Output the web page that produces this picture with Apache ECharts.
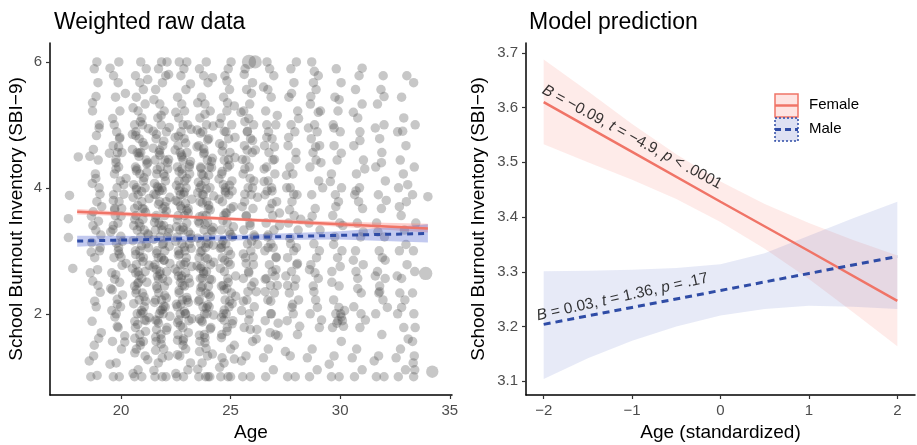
<!DOCTYPE html>
<html>
<head>
<meta charset="utf-8">
<script src="https://cdn.jsdelivr.net/npm/echarts@6/dist/echarts.min.js"></script>
<style>
  html, body { margin: 0; padding: 0; background: #fff; }
  #chart { width: 917px; height: 445px; }
</style>
</head>
<body>
<div id="chart"></div>
<script>
// ---- weighted raw data (age, SBI-9 [, weight]), by age column ----
const col19 = [[18.62,1.0],[18.91,1.02],[18.75,1.33],[18.98,1.61],[18.68,1.88],[18.87,2.11],[19.05,2.34],[18.71,2.52],[18.93,2.7],[18.8,2.89],[19.02,3.0],[18.66,3.13],[18.85,3.33],[18.97,3.47],[18.73,3.62],[18.9,3.78],[19.04,3.9],[18.69,4.07],[18.83,4.22],[18.96,4.44],[18.74,4.61],[18.88,4.83],[19.01,5.0],[18.7,5.22],[18.86,5.45],[18.95,5.67],[18.78,5.89],[18.9,6.0],[18.64,2.98],[19.0,4.0],
  [18.55,1.25],[19.1,1.7],[18.8,2.2],[18.6,2.65],[19.05,3.05],[18.72,3.4],[19.12,3.7],[18.85,4.15],[18.58,4.5],[19.0,4.95],[18.7,5.35],[18.95,2.45],[18.65,3.55],[19.08,3.25],[18.78,1.5]];
const col20 = [[19.65,1.0],[19.92,1.0],[19.78,1.22],[20.02,1.44],[19.61,1.56],[19.87,1.78],[19.72,1.95],[19.98,2.11],[19.83,2.23],[19.6,2.38],[19.94,2.5],[19.76,2.62],[20.05,2.77],[19.68,2.89],[19.88,3.0],[19.79,3.12],[19.99,3.23],[19.63,3.34],[19.86,3.44],[19.74,3.56],[20.03,3.67],[19.91,3.78],[19.66,3.89],[19.82,4.0],[19.97,4.11],[19.7,4.22],[19.89,4.33],[19.77,4.45],[20.04,4.56],[19.64,4.67],[19.93,4.78],[19.8,4.89],[19.69,5.0],[19.95,5.22],[19.75,5.44],[19.87,5.67],[19.66,5.78],[19.9,6.0],[19.78,2.0],[19.92,2.95],[19.71,3.67],[19.84,4.56],
  [19.5,1.2],[20.17,1.55],[19.83,1.8],[19.58,2.05],[20.07,2.3],[19.71,2.55],[20.23,2.8],[19.89,3.05],[19.53,3.3],[20.0,3.55],[19.65,3.8],[20.13,4.05],[19.77,4.3],[19.47,4.55],[19.95,4.8],[19.62,5.1],[20.2,5.5],[19.5,5.9],[20.17,1.65],[19.83,2.15],[19.58,2.65],[20.07,3.15],[19.71,3.65],[20.23,4.15],[19.89,4.65],[19.53,2.4],[20.0,2.9],[19.65,3.4],[20.13,3.9],[19.77,4.4]];
const col21 = [[20.62,1.0],[20.95,1.0],[20.78,1.11],[21.1,1.33],[20.7,1.44],[21.02,1.56],[20.86,1.67],[20.66,1.78],[21.15,1.89],[20.9,2.0],[20.74,2.0],[21.06,2.11],[20.83,2.22],[20.68,2.33],[20.98,2.33],[20.62,2.44],[20.95,2.56],[20.78,2.67],[21.1,2.67],[20.7,2.78],[21.02,2.89],[20.86,3.0],[20.66,3.0],[21.15,3.11],[20.9,3.22],[20.74,3.33],[21.06,3.33],[20.83,3.44],[20.68,3.56],[20.98,3.67],[20.62,3.67],[20.95,3.78],[20.78,3.89],[21.1,4.0],[20.7,4.0],[21.02,4.11],[20.86,4.22],[20.66,4.33],[21.15,4.44],[20.9,4.56],[20.74,4.56],[21.06,4.67],[20.83,4.78],[20.68,4.89],[20.98,5.0],[20.62,5.0],[20.95,5.11],[20.78,5.22],[21.1,5.33],[20.7,5.44],[21.02,5.56],[20.86,5.67],[20.66,5.78],[21.15,5.89],[20.9,6.0],[20.8,2.5],[21.0,3.5],[20.72,4.3],[21.08,1.9],[20.88,2.9],
  [20.55,1.05],[21.22,1.27],[20.88,1.5],[20.63,1.61],[21.12,1.72],[20.76,1.83],[21.28,1.94],[20.94,2.05],[20.58,2.16],[21.05,2.27],[20.7,2.38],[21.18,2.5],[20.82,2.61],[20.52,2.72],[21.0,2.83],[20.67,2.94],[21.25,3.05],[20.55,3.16],[21.22,3.27],[20.88,3.38],[20.63,3.5],[21.12,3.61],[20.76,3.72],[21.28,3.83],[20.94,3.94],[20.58,4.05],[21.05,4.16],[20.7,4.27],[21.18,4.38],[20.82,4.5],[20.52,4.61],[21.0,4.72],[20.67,4.83],[21.25,4.94],[20.55,5.27],[21.22,5.72],[20.88,1.55],[20.63,1.88],[21.12,2.2],[20.76,2.48],[21.28,2.77],[20.94,3.08],[20.58,3.4],[21.05,3.66],[20.7,3.97],[21.18,4.25],[20.82,4.55],[20.52,4.85],[21.0,2.02],[20.67,2.65],[21.25,3.25],[20.55,3.85],[21.22,4.4],[20.88,5.05],[20.63,1.38]];
const col22 = [[21.55,1.0],[21.88,1.0],[22.05,1.0],[21.7,1.22],[21.95,1.44],[21.6,1.56],[21.82,1.67],[22.1,1.78],[21.66,1.89],[21.92,2.0],[21.75,2.0],[22.02,2.11],[21.58,2.22],[21.85,2.22],[21.72,2.33],[21.98,2.44],[21.62,2.44],[21.9,2.56],[21.78,2.67],[22.08,2.67],[21.55,2.78],[21.84,2.89],[21.7,2.89],[22.0,3.0],[21.64,3.0],[21.93,3.11],[21.79,3.22],[22.12,3.22],[21.57,3.33],[21.87,3.33],[21.73,3.44],[21.99,3.56],[21.61,3.56],[21.91,3.67],[21.76,3.78],[22.06,3.78],[21.59,3.89],[21.86,4.0],[21.69,4.0],[22.03,4.11],[21.63,4.22],[21.94,4.22],[21.8,4.33],[21.56,4.44],[22.0,4.44],[21.74,4.56],[21.9,4.67],[21.6,4.78],[22.07,4.89],[21.83,5.0],[21.68,5.11],[21.97,5.22],[21.77,5.33],[21.58,5.56],[21.89,5.67],[22.04,5.78],[21.71,5.89],[21.85,6.0],[22.1,6.0],[21.81,2.05],[21.66,2.6],[21.95,3.4],[21.75,3.95],[21.88,1.3],[21.62,1.75],[21.97,2.85],
  [21.5,1.1],[22.17,1.33],[21.83,1.52],[21.58,1.63],[22.07,1.74],[21.71,1.85],[22.23,1.96],[21.89,2.07],[21.53,2.18],[22.0,2.29],[21.65,2.4],[22.13,2.52],[21.77,2.63],[21.47,2.74],[21.95,2.85],[21.62,2.96],[22.2,3.07],[21.5,3.18],[22.17,3.29],[21.83,3.4],[21.58,3.52],[22.07,3.63],[21.71,3.74],[22.23,3.85],[21.89,3.96],[21.53,4.07],[22.0,4.18],[21.65,4.29],[22.13,4.4],[21.77,4.52],[21.47,4.63],[21.95,4.74],[21.62,4.85],[22.2,4.96],[21.5,5.4],[22.17,5.8],[21.83,1.6],[21.58,1.9],[22.07,2.25],[21.71,2.55],[22.23,2.8],[21.89,3.1],[21.53,3.45],[22.0,3.7],[21.65,4.02],[22.13,4.3],[21.77,4.6],[21.47,4.9],[21.95,2.12],[21.62,2.7],[22.2,3.35],[21.5,3.9],[22.17,4.45],[21.83,5.15],[21.58,1.42]];
const col23 = [[22.55,1.0],[22.85,1.0],[23.05,1.11],[22.68,1.33],[22.95,1.44],[22.6,1.67],[22.82,1.78],[23.1,1.89],[22.7,2.0],[22.93,2.0],[22.57,2.11],[22.8,2.22],[23.02,2.22],[22.65,2.33],[22.9,2.44],[22.75,2.56],[23.08,2.56],[22.58,2.67],[22.87,2.78],[22.72,2.78],[22.98,2.89],[22.62,3.0],[22.92,3.0],[22.78,3.11],[23.12,3.11],[22.56,3.22],[22.84,3.33],[22.69,3.33],[23.0,3.44],[22.61,3.56],[22.89,3.56],[22.76,3.67],[23.06,3.67],[22.59,3.78],[22.86,3.89],[22.71,3.89],[22.97,4.0],[22.64,4.11],[22.91,4.11],[22.79,4.22],[23.11,4.33],[22.57,4.33],[22.83,4.44],[22.7,4.56],[23.01,4.56],[22.6,4.67],[22.88,4.78],[22.74,4.89],[23.04,5.0],[22.63,5.11],[22.9,5.22],[22.77,5.33],[22.58,5.44],[22.96,5.56],[22.73,5.78],[22.87,5.89],[22.66,6.0],[23.0,6.0],[22.81,2.45],[22.67,2.95],[22.94,3.75],[22.78,4.3],[22.85,1.6],[22.63,1.9],[23.07,3.3],[22.73,2.15],[22.95,2.65],[22.69,4.0],
  [22.5,1.05],[23.17,1.22],[22.83,1.5],[22.58,1.58],[23.07,1.7],[22.71,1.81],[23.23,1.92],[22.89,2.04],[22.53,2.15],[23.0,2.26],[22.65,2.37],[23.13,2.49],[22.77,2.6],[22.47,2.71],[22.95,2.82],[22.62,2.93],[23.2,3.04],[22.5,3.15],[23.17,3.26],[22.83,3.37],[22.58,3.49],[23.07,3.6],[22.71,3.71],[23.23,3.82],[22.89,3.93],[22.53,4.04],[23.0,4.15],[22.65,4.26],[23.13,4.37],[22.77,4.49],[22.47,4.6],[22.95,4.71],[22.62,4.82],[23.2,4.93],[22.5,5.2],[23.17,5.65],[22.83,1.57],[22.58,1.86],[23.07,2.18],[22.71,2.5],[23.23,2.75],[22.89,3.06],[22.53,3.38],[23.0,3.64],[22.65,3.95],[23.13,4.22],[22.77,4.52],[22.47,4.8],[22.95,2.0],[22.62,2.6],[23.2,3.2],[22.5,3.8],[23.17,4.42],[22.83,5.0],[22.58,1.35]];
const col24 = [[23.55,1.0],[23.86,1.0],[24.05,1.0],[23.97,1.0],[23.7,1.22],[23.95,1.33],[23.6,1.56],[23.8,1.67],[24.1,1.78],[23.66,1.89],[23.92,2.0],[23.74,2.11],[24.02,2.11],[23.58,2.22],[23.87,2.33],[23.71,2.44],[23.99,2.44],[23.62,2.56],[23.9,2.67],[23.77,2.67],[24.08,2.78],[23.56,2.89],[23.84,2.89],[23.69,3.0],[24.0,3.11],[23.64,3.11],[23.93,3.22],[23.79,3.33],[24.12,3.33],[23.57,3.44],[23.88,3.56],[23.72,3.56],[23.98,3.67],[23.61,3.78],[23.91,3.78],[23.76,3.89],[24.06,4.0],[23.59,4.0],[23.85,4.11],[23.68,4.22],[24.03,4.33],[23.63,4.33],[23.94,4.44],[23.8,4.56],[23.55,4.67],[24.0,4.78],[23.73,4.89],[23.9,5.0],[23.6,5.11],[24.07,5.22],[23.83,5.33],[23.67,5.44],[23.97,5.67],[23.77,5.78],[23.58,5.89],[23.89,6.0],[23.81,2.0],[23.66,2.75],[23.95,3.45],[23.75,4.2],[23.88,1.45],[23.62,2.35],[24.04,2.55],[23.71,3.9],[23.86,3.05],
  [23.5,1.12],[24.17,1.36],[23.83,1.54],[23.58,1.66],[24.07,1.76],[23.71,1.87],[24.23,1.98],[23.89,2.09],[23.53,2.2],[24.0,2.31],[23.65,2.42],[24.13,2.54],[23.77,2.64],[23.47,2.76],[23.95,2.87],[23.62,2.98],[24.2,3.09],[23.5,3.2],[24.17,3.31],[23.83,3.42],[23.58,3.54],[24.07,3.65],[23.71,3.76],[24.23,3.87],[23.89,3.98],[23.53,4.09],[24.0,4.2],[23.65,4.31],[24.13,4.42],[23.77,4.54],[23.47,4.65],[23.95,4.76],[23.62,4.87],[24.2,4.98],[23.5,5.35],[24.17,5.75],[23.83,1.62],[23.58,1.92],[24.07,2.27],[23.71,2.57],[24.23,2.82],[23.89,3.12],[23.53,3.47],[24.0,3.72],[23.65,4.04],[24.13,4.32],[23.77,4.62],[23.47,4.92],[23.95,2.14],[23.62,2.72],[24.2,3.37],[23.5,3.92],[24.17,4.47],[23.83,5.17],[23.58,1.4]];
const col25 = [[24.55,1.0],[24.88,1.0],[24.7,1.22],[25.0,1.44],[24.6,1.67],[24.85,1.78],[25.1,1.89],[24.66,2.0],[24.93,2.11],[24.75,2.22],[25.04,2.33],[24.58,2.44],[24.87,2.56],[24.72,2.67],[24.98,2.78],[24.62,2.89],[24.9,3.0],[24.78,3.11],[25.08,3.22],[24.56,3.33],[24.84,3.44],[24.69,3.56],[25.01,3.67],[24.63,3.78],[24.92,3.89],[24.76,4.0],[25.06,4.11],[24.59,4.22],[24.86,4.33],[24.71,4.44],[24.97,4.56],[24.64,4.67],[24.91,4.78],[24.79,4.89],[25.05,5.0],[24.57,5.11],[24.83,5.22],[24.68,5.44],[24.95,5.56],[24.74,5.78],[24.89,5.89],[25.02,6.0],[24.8,2.0],[24.66,2.45],[24.94,3.3],[24.75,3.95],[24.61,1.3],[24.9,4.45],[24.73,2.85],[25.0,1.0],[24.82,3.6],[24.67,4.05],[24.96,2.2],[24.58,3.05],[24.86,5.35],[24.7,1.9],
  [24.5,1.15],[25.17,1.5],[24.83,1.72],[24.58,1.94],[25.07,2.16],[24.71,2.38],[25.23,2.6],[24.89,2.82],[24.53,3.04],[25.0,3.26],[24.65,3.48],[25.13,3.7],[24.77,3.92],[24.47,4.14],[24.95,4.36],[24.62,4.58],[25.2,4.8],[24.5,5.02],[25.17,5.3],[24.83,5.7],[24.58,1.62],[25.07,1.84],[24.71,2.06],[25.23,2.28],[24.89,2.5],[24.53,2.72],[25.0,2.94],[24.65,3.16],[25.13,3.38],[24.77,3.6],[24.47,3.82],[24.95,4.04],[24.62,4.26],[25.2,4.48],[24.5,4.7],[25.17,1.28],[24.83,2.4],[24.58,3.1],[25.07,3.95],[24.71,4.9]];
const col26 = [[25.55,1.0],[25.9,1.0],[25.7,1.33],[26.0,1.56],[25.62,1.78],[25.86,2.0],[26.08,2.11],[25.74,2.22],[25.95,2.44],[25.58,2.56],[25.82,2.67],[26.04,2.78],[25.68,2.89],[25.92,3.0],[25.77,3.11],[26.1,3.22],[25.6,3.33],[25.88,3.44],[25.72,3.56],[26.02,3.67],[25.64,3.78],[25.94,3.89],[25.8,4.0],[26.06,4.11],[25.57,4.22],[25.85,4.33],[25.7,4.44],[25.99,4.56],[25.63,4.67],[25.91,4.78],[25.76,4.89],[26.05,5.0],[25.6,5.22],[25.87,5.33],[25.73,5.56],[26.0,5.67],[25.66,5.89],[25.84,6.0,1.5],[26.12,6.0,1.4],[25.79,2.35],[25.96,3.15],[25.65,3.9],[25.9,1.75],[25.75,4.6],[26.03,2.9],[25.83,5.1],
  [25.5,1.25],[26.17,1.6],[25.83,1.9],[25.58,2.2],[26.07,2.5],[25.71,2.8],[26.23,3.1],[25.89,3.4],[25.53,3.7],[26.0,4.0],[25.65,4.3],[26.13,4.6],[25.77,4.9],[25.47,5.2],[25.95,5.5],[25.62,5.8],[26.2,1.75],[25.5,2.05],[26.17,2.35],[25.83,2.65],[25.58,2.95],[26.07,3.25],[25.71,3.55],[26.23,3.85],[25.89,4.15],[25.53,4.45],[26.0,4.75],[25.65,5.05]];
const col27 = [[26.6,1.0],[26.95,1.11],[26.72,1.44],[27.05,1.67],[26.58,1.89],[26.86,2.0],[26.7,2.22],[27.0,2.33],[26.63,2.56],[26.9,2.67],[26.77,2.78],[27.08,2.89],[26.56,3.0],[26.84,3.11],[26.68,3.22],[26.98,3.33],[26.62,3.44],[26.92,3.56],[26.79,3.67],[27.1,3.78],[26.57,3.89],[26.87,4.0],[26.71,4.11],[27.02,4.22],[26.64,4.33],[26.93,4.44],[26.75,4.56],[26.55,4.67],[26.89,4.78],[26.73,4.89],[27.06,5.0],[26.6,5.22],[26.85,5.44],[26.7,5.56],[26.97,5.78],[26.78,5.89],[26.66,6.0],[26.82,2.45],[26.94,3.05],[26.67,3.95],[26.8,1.7],[27.03,2.6],
  [26.5,1.3],[27.17,1.65],[26.83,2.0],[26.58,2.35],[27.07,2.7],[26.71,3.05],[27.23,3.4],[26.89,3.75],[26.53,4.1],[27.0,4.45],[26.65,4.8],[27.13,5.15],[26.5,5.6],[27.17,1.85],[26.83,2.2],[26.58,2.55],[27.07,2.9],[26.71,3.25],[27.23,3.6],[26.89,3.95],[26.53,4.3],[27.0,4.65],[26.65,5.0],[27.13,2.45]];
const col28 = [[27.6,1.0],[27.95,1.0],[27.72,1.33],[28.05,1.67],[27.58,1.89],[27.86,2.0],[28.1,2.22],[27.68,2.33],[27.92,2.44],[27.78,2.67],[28.02,2.78],[27.6,2.89],[27.88,3.0],[27.74,3.11],[28.08,3.33],[27.64,3.44],[27.9,3.56],[27.8,3.78],[28.03,3.89],[27.56,4.0],[27.84,4.22],[27.7,4.33],[27.98,4.56],[27.62,4.67],[27.93,4.89],[27.76,5.0],[28.06,5.22],[27.66,5.44],[27.89,5.67],[27.75,5.89],[28.0,6.0],[27.83,2.15],[27.97,2.55],[27.69,3.65],
  [27.5,1.4],[28.15,1.8],[27.8,2.1],[27.6,2.45],[28.05,2.8],[27.7,3.2],[28.2,3.5],[27.88,3.9],[27.55,4.2],[27.98,4.45],[27.65,4.8],[28.1,5.1],[27.78,5.5],[27.52,2.6],[28.0,3.05],[27.72,4.0]];
const col29 = [[28.6,1.0],[28.95,1.11],[28.72,1.44],[29.05,1.78],[28.63,2.0],[28.88,2.22],[28.77,2.44],[29.0,2.56],[28.66,2.78],[28.92,2.89],[28.8,3.11],[29.08,3.33],[28.58,3.44],[28.86,3.67],[28.7,3.89],[29.02,4.11],[28.62,4.33],[28.9,4.44],[28.76,4.56],[29.06,4.67],[28.68,4.78],[28.95,4.89],[28.83,5.0],[29.1,5.22],[28.64,5.33],[28.9,5.56],[28.78,5.67],[29.0,5.78],[28.7,6.0],[28.85,2.65],
  [28.5,1.3],[29.15,1.9],[28.8,2.35],[28.6,2.7],[29.05,3.0],[28.72,3.55],[29.2,4.0],[28.88,4.65],[28.55,4.95],[29.0,5.2],[28.66,5.45],[29.12,4.4],[28.82,5.85],[28.96,2.1]];
const col30 = [[29.6,1.0],[29.95,1.0],[29.72,1.33],[30.05,1.56],[29.65,1.78],[29.9,1.89],[30.1,1.89],[29.8,2.0],[30.02,2.0],[29.7,2.22],[29.95,2.44],[29.62,2.67],[29.88,2.89],[30.08,3.0],[29.75,3.22],[29.98,3.44],[29.66,3.56],[29.92,3.78],[29.78,3.89],[30.06,4.0],[29.6,4.22],[29.86,4.44],[29.72,4.67],[30.0,4.89],[29.68,5.0],[29.9,5.22],[29.76,5.44],[30.04,5.67],[29.82,5.89],[29.94,2.1],
  [29.5,1.2],[30.15,1.8],[30.05,1.95],[29.85,1.85],[30.2,2.05],[29.62,2.5],[30.0,2.75],[29.7,3.1],[30.12,3.4],[29.8,3.7],[29.55,4.1],[30.05,4.55],[29.72,4.95],[29.95,5.4]];
const col31 = [[30.65,1.0],[31.0,1.11],[30.75,1.44],[30.9,1.78],[30.62,2.11],[30.96,2.33],[30.8,2.56],[31.05,2.78],[30.7,3.0],[30.93,3.22],[30.78,3.44],[31.02,3.67],[30.66,3.89],[30.88,4.0],[30.74,4.22],[31.06,4.44],[30.62,4.67],[30.9,4.89],[30.8,5.11],[31.0,5.33],[30.7,5.56],[30.86,5.78],[30.95,2.0],[30.72,2.67],[30.84,3.78],
  [30.55,1.3],[31.15,1.9],[30.8,2.4],[30.6,2.85],[31.05,3.3],[30.72,3.95],[31.12,4.3],[30.9,4.75],[30.6,5.2],[31.0,5.9]];
const col32 = [[31.65,1.0],[32.0,1.0],[31.75,1.33],[31.9,1.67],[31.62,2.0],[31.95,2.22],[31.8,2.44],[32.05,2.56],[31.7,2.67],[31.92,2.89],[31.78,3.0],[32.02,3.22],[31.66,3.44],[31.88,3.67],[31.74,3.89],[32.06,4.11],[31.62,4.33],[31.9,4.56],[31.8,4.78],[32.0,5.0],[31.7,5.33],[31.86,5.56],[31.96,5.78],[31.76,2.33],
  [31.55,1.25],[32.15,2.1],[31.8,2.35],[31.6,2.6],[32.05,2.85],[31.72,3.3],[32.1,3.8],[31.88,4.4],[31.6,4.95],[32.0,5.45]];
const col33 = [[32.65,1.0],[32.98,1.11],[32.75,1.44],[32.9,1.78],[32.62,2.0],[32.95,2.22],[32.8,2.56],[33.05,2.78],[32.7,3.0],[32.93,3.33],[32.78,3.56],[33.02,3.78],[32.66,4.0],[32.88,4.22],[32.74,4.44],[33.0,4.67],[32.62,4.89],[32.9,5.11],[32.8,5.44],[33.04,5.78],[32.72,2.33],
  [32.55,1.3],[33.1,1.6],[32.8,2.1],[32.6,2.6],[33.0,3.1],[32.7,3.7],[33.08,4.05],[32.85,4.9]];
const col34 = [[33.35,1.0],[33.4,1.11],[33.33,1.22],[33.38,1.33],[33.3,1.56],[33.42,1.78],[33.36,2.0],[33.3,2.33],[33.4,2.67],[33.34,3.0],[33.45,3.44],[33.3,3.89],[33.38,4.33],[33.42,5.0],[33.35,5.67]];
const outliers = [[17.65,3.88],[17.6,3.51],[17.6,3.21],[17.8,2.72],[18.05,4.49],[34.2,1.08,1.3],[33.9,2.64,1.4],[34.0,3.86]];

// ---- fitted lines on the raw-data panel ----
const rawAges = [18, 22, 26, 30, 34];
const rawFemaleFit = [3.62, 3.555, 3.49, 3.42, 3.355];
const rawFemaleLow = [3.575, 3.525, 3.465, 3.38, 3.29];
const rawFemaleHigh = [3.665, 3.585, 3.515, 3.46, 3.43];
const rawMaleFit = [3.154, 3.185, 3.215, 3.245, 3.276];
const rawMaleLow = [3.065, 3.135, 3.17, 3.18, 3.13];
const rawMaleHigh = [3.24, 3.235, 3.26, 3.31, 3.42];

// ---- model prediction panel ----
const ageStd = [-2, -1, 0, 1, 2];
const femaleFit = [3.61, 3.519, 3.428, 3.338, 3.247];
const maleFit = [3.204, 3.235, 3.266, 3.297, 3.328];
const bandX = [-2, -1.5, -1, -0.5, 0, 0.5, 1, 1.5, 2];
const femaleLow = [3.533, 3.500, 3.468, 3.433, 3.391, 3.342, 3.287, 3.226, 3.164];
const femaleHigh = [3.688, 3.630, 3.570, 3.515, 3.465, 3.424, 3.389, 3.358, 3.330];
const maleLow = [3.104, 3.142, 3.174, 3.200, 3.220, 3.232, 3.238, 3.236, 3.232];
const maleHigh = [3.301, 3.302, 3.304, 3.307, 3.314, 3.334, 3.366, 3.398, 3.428];

// tick labels
const rawYTicks = [2, 4, 6];
const rawXTicks = [20, 25, 30, 35];
const predYTicks = [3.1, 3.2, 3.3, 3.4, 3.5, 3.6, 3.7];
const predXTicks = [-2, -1, 0, 1, 2];

// annotations [x, y] (text centre)
const femaleNotePos = [-1.0, 3.546];
const maleNotePos = [-1.11, 3.254];

const FONT = 'Liberation Sans, Arial, sans-serif';
const RED = '#F07467';
const BLUE = '#2F4CA6';

const rawPoints = [].concat(col19, col20, col21, col22, col23, col24, col25, col26,
  col27, col28, col29, col30, col31, col32, col33, col34, outliers);

function pairs(xs, ys) { return xs.map((x, i) => [x, ys[i]]); }

function band(xs, lo, hi, fill, xi, yi) {
  return {
    type: 'custom', xAxisIndex: xi, yAxisIndex: yi, silent: true, z: 3,
    data: xs.map((x, i) => [x, lo[i], hi[i]]),
    renderItem: function (params, api) {
      if (params.dataIndex !== 0) return null;
      const pts = [];
      for (let i = 0; i < xs.length; i++) pts.push(api.coord([xs[i], hi[i]]));
      for (let i = xs.length - 1; i >= 0; i--) pts.push(api.coord([xs[i], lo[i]]));
      return { type: 'polygon', shape: { points: pts }, style: { fill: fill } };
    }
  };
}

function axisBase(extra) {
  return Object.assign({
    type: 'value',
    splitLine: { show: false },
    axisLine: { show: true, onZero: false, lineStyle: { color: '#000', width: 1.5 } },
    nameLocation: 'middle',
    nameTextStyle: { color: '#000', fontSize: 19, fontFamily: FONT }
  }, extra);
}

function ticks(values) {
  return { show: true, length: 4, customValues: values, lineStyle: { color: '#333', width: 1.2 } };
}

function labels(values, fmt) {
  const l = { color: '#4D4D4D', fontSize: 15, fontFamily: FONT, margin: 8, customValues: values };
  if (fmt) l.formatter = fmt;
  return l;
}

function minus(v) { return v < 0 ? '\u2212' + Math.abs(v) : String(v); }

const chart = echarts.init(document.getElementById('chart'), null, { renderer: 'canvas' });

const option = {
  backgroundColor: '#fff',
  animation: false,
  title: [
    { text: 'Weighted raw data', left: 49, top: 6, textStyle: { fontSize: 23, fontWeight: 'normal', color: '#000', fontFamily: FONT } },
    { text: 'Model prediction', left: 524, top: 6, textStyle: { fontSize: 23, fontWeight: 'normal', color: '#000', fontFamily: FONT } }
  ],
  grid: [
    { left: 50, right: 465, top: 43, bottom: 50, containLabel: false, outerBoundsMode: 'none' },
    { left: 526, right: 2, top: 43, bottom: 50, containLabel: false, outerBoundsMode: 'none' }
  ],
  xAxis: [
    axisBase({ gridIndex: 0, min: 16.76, max: 35.1, name: 'Age', nameGap: 27,
      axisTick: ticks(rawXTicks), axisLabel: labels(rawXTicks) }),
    axisBase({ gridIndex: 1, min: -2.2, max: 2.2, name: 'Age (standardized)', nameGap: 27,
      axisTick: ticks(predXTicks), axisLabel: labels(predXTicks, minus) })
  ],
  yAxis: [
    axisBase({ gridIndex: 0, min: 0.71, max: 6.3, name: 'School Burnout Inventory (SBI\u22129)', nameGap: 24,
      axisTick: ticks(rawYTicks), axisLabel: labels(rawYTicks) }),
    axisBase({ gridIndex: 1, min: 3.075, max: 3.718, name: 'School Burnout Inventory (SBI\u22129)', nameGap: 38,
      axisTick: ticks(predYTicks), axisLabel: labels(predYTicks, v => v.toFixed(1)) })
  ],
  series: [
    {
      type: 'scatter', xAxisIndex: 0, yAxisIndex: 0, silent: true, z: 1,
      data: rawPoints,
      symbolSize: v => (v[2] ? 9.5 * v[2] : 9.5),
      itemStyle: { color: '#4a4a4a', opacity: 0.31 }
    },
    band(rawAges, rawFemaleLow, rawFemaleHigh, 'rgba(248,118,109,0.35)', 0, 0),
    band(rawAges, rawMaleLow, rawMaleHigh, 'rgba(80,100,210,0.35)', 0, 0),
    { type: 'line', xAxisIndex: 0, yAxisIndex: 0, data: pairs(rawAges, rawFemaleFit), showSymbol: false, silent: true, z: 5,
      lineStyle: { color: RED, width: 2.5 } },
    { type: 'line', xAxisIndex: 0, yAxisIndex: 0, data: pairs(rawAges, rawMaleFit), showSymbol: false, silent: true, z: 5,
      lineStyle: { color: BLUE, width: 3, type: [6, 5] } },

    band(bandX, femaleLow, femaleHigh, 'rgba(248,118,109,0.15)', 1, 1),
    band(bandX, maleLow, maleHigh, 'rgba(70,90,190,0.13)', 1, 1),
    { type: 'line', xAxisIndex: 1, yAxisIndex: 1, data: pairs(ageStd, femaleFit), showSymbol: false, silent: true, z: 5,
      lineStyle: { color: RED, width: 2.5 } },
    { type: 'line', xAxisIndex: 1, yAxisIndex: 1, data: pairs(ageStd, maleFit), showSymbol: false, silent: true, z: 5,
      lineStyle: { color: BLUE, width: 3, type: [7, 5] } },
    {
      type: 'scatter', xAxisIndex: 1, yAxisIndex: 1, silent: true, z: 6, symbolSize: 0,
      data: [femaleNotePos],
      label: { show: true, position: 'inside', rotate: -28.5, color: '#000', fontSize: 15.5, fontFamily: FONT,
        formatter: '{i|B} = \u22120.09, {i|t} = \u22124.9, {i|p} < .0001',
        rich: { i: { fontStyle: 'italic', fontSize: 15.5, fontFamily: FONT, color: '#000' } } }
    },
    {
      type: 'scatter', xAxisIndex: 1, yAxisIndex: 1, silent: true, z: 6, symbolSize: 0,
      data: [maleNotePos],
      label: { show: true, position: 'inside', rotate: 12.5, color: '#000', fontSize: 15.5, fontFamily: FONT,
        formatter: '{i|B} = 0.03, {i|t} = 1.36, {i|p} = .17',
        rich: { i: { fontStyle: 'italic', fontSize: 15.5, fontFamily: FONT, color: '#000' } } }
    }
  ],
  graphic: [
    // legend keys
    { type: 'rect', shape: { x: 775, y: 94, width: 23, height: 23 },
      style: { fill: 'rgba(248,118,109,0.2)', stroke: RED, lineWidth: 1.5 } },
    { type: 'line', shape: { x1: 775, y1: 105.5, x2: 798, y2: 105.5 }, style: { stroke: RED, lineWidth: 2.5 } },
    { type: 'rect', shape: { x: 775, y: 118, width: 23, height: 23 },
      style: { fill: 'rgba(70,90,190,0.18)', stroke: BLUE, lineWidth: 1.5, lineDash: [2, 2] } },
    { type: 'line', shape: { x1: 775, y1: 129.5, x2: 798, y2: 129.5 }, style: { stroke: BLUE, lineWidth: 3, lineDash: [6, 4] } },
    { type: 'text', left: 809, top: 97, style: { text: 'Female', fontSize: 15, fontFamily: FONT, fill: '#000' } },
    { type: 'text', left: 809, top: 121, style: { text: 'Male', fontSize: 15, fontFamily: FONT, fill: '#000' } }
  ]
};

chart.setOption(option);
</script>
</body>
</html>
